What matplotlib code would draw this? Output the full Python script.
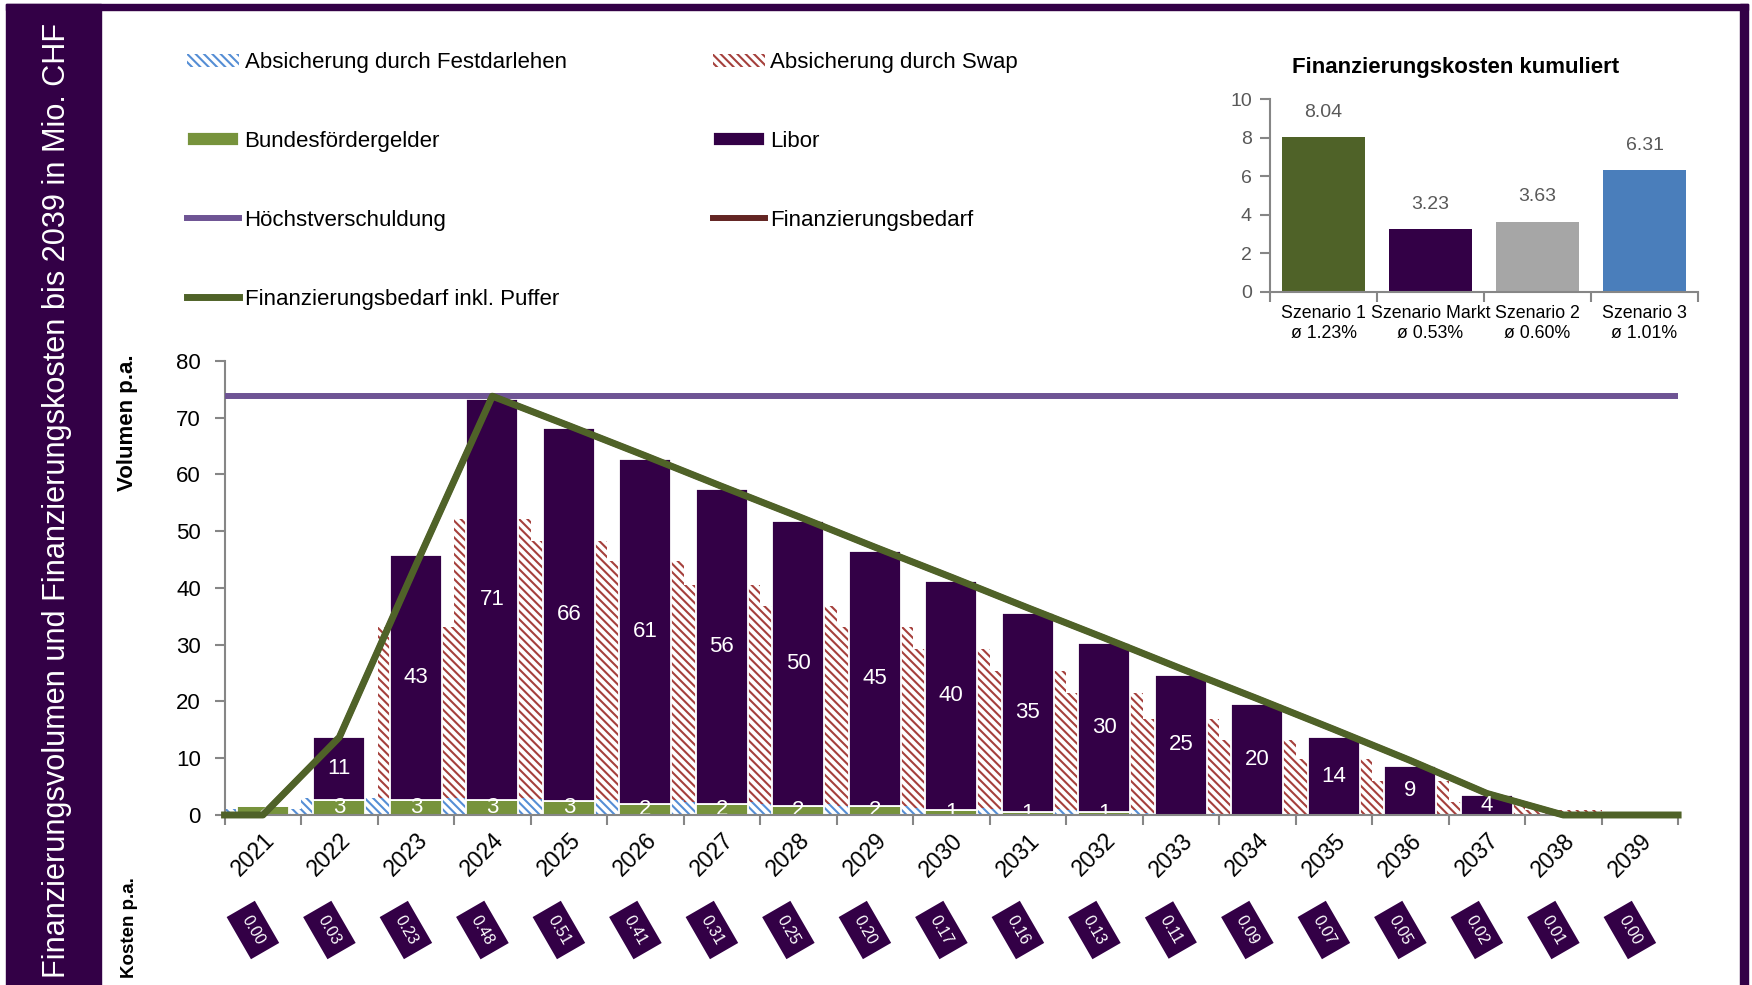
import numpy as np
import matplotlib
matplotlib.use('Agg')
import matplotlib.pyplot as plt
import matplotlib.transforms as mtransforms
from matplotlib.patches import Rectangle

plt.rcParams['font.family'] = ['Liberation Sans Narrow', 'Liberation Sans', 'DejaVu Sans']
plt.rcParams['hatch.linewidth'] = 1.5

# main chart data (Mio. CHF)
years = [str(y) for y in range(2021, 2040)]
festdarlehen = [1.1, 3.0, 3.0, 3.0, 2.9, 2.6, 2.3, 1.9, 1.5, 1.2, 1.0, 0.8, 0.3, 0, 0, 0, 0, 0, 0]
swap = [0, 0, 30.1, 49.2, 45.4, 42.2, 38.3, 35.0, 31.6, 28.1, 24.4, 20.7, 16.7, 13.3, 9.9, 6.0, 2.3, 0.8, 0]
bundesgelder = [1.5, 2.6, 2.6, 2.6, 2.55, 1.9, 1.9, 1.6, 1.5, 0.8, 0.6, 0.6, 0, 0, 0, 0, 0, 0, 0]
libor = [0, 11.1, 43.3, 70.7, 65.6, 60.8, 55.6, 50.2, 45.0, 40.4, 35.0, 29.7, 24.7, 19.6, 13.7, 8.6, 3.5, 0, 0]
hoechstverschuldung = 73.8
bedarf = [0, 13.7, 44.0, 73.8, 68.6, 63.3, 57.9, 52.6, 47.2, 41.9, 36.5, 31.2, 25.8, 20.5, 15.1, 9.6, 3.8, 0, 0]
bedarf_puffer = [0, 13.7, 44.0, 73.8, 68.6, 63.3, 57.9, 52.6, 47.2, 41.9, 36.5, 31.2, 25.8, 20.5, 15.1, 9.6, 3.8, 0, 0]
kosten = [0.00, 0.03, 0.23, 0.48, 0.51, 0.41, 0.31, 0.25, 0.20, 0.17, 0.16, 0.13, 0.11, 0.09, 0.07, 0.05, 0.02, 0.01, 0.00]

# inset data
szenarien = ['Szenario 1\nø 1.23%', 'Szenario Markt\nø 0.53%', 'Szenario 2\nø 0.60%', 'Szenario 3\nø 1.01%']
kumuliert = [8.04, 3.23, 3.63, 6.31]

purple = '#330046'
green_bar = '#77933C'
green_line = '#4F6228'
hoechst_col = '#6E5494'
bedarf_col = '#632523'
blue_hatch = '#558ED5'
red_hatch = '#A5403C'
grey = '#868686'
hatch = '\\\\\\\\'

fig = plt.figure(figsize=(17.52, 9.85), dpi=100)

# frame: left band, top and right border
fig.patches.append(Rectangle((6 / 1752, 0), 95 / 1752, 1 - 3.5 / 985, transform=fig.transFigure,
                             color=purple, zorder=0))
fig.patches.append(Rectangle((6 / 1752, 1 - 9.5 / 985), 1742 / 1752, 6 / 985, transform=fig.transFigure,
                             color=purple, zorder=0))
fig.patches.append(Rectangle((1740 / 1752, 0), 8 / 1752, 1 - 3.5 / 985, transform=fig.transFigure,
                             color=purple, zorder=0))
fig.text(57 / 1752, 1 - 500 / 985, 'Finanzierungsvolumen und Finanzierungskosten bis 2039 in Mio. CHF',
         rotation=90, color='white', fontsize=22.1, ha='center', va='center')

ax = fig.add_axes([0.1282, 0.1726, 0.8296, 0.4609])
x = np.arange(len(years))

b_fest = ax.bar(x, festdarlehen, width=1.0, color='white', edgecolor=blue_hatch, hatch=hatch,
                linewidth=0, zorder=1, label='Absicherung durch Festdarlehen')
b_swap = ax.bar(x, swap, width=1.0, bottom=festdarlehen, color='white', edgecolor=red_hatch, hatch=hatch,
                linewidth=0, zorder=1, label='Absicherung durch Swap')
b_bund = ax.bar(x, bundesgelder, width=0.68, color=green_bar, edgecolor='white', linewidth=1.3,
                zorder=2, label='Bundesfördergelder')
b_libor = ax.bar(x, libor, width=0.68, bottom=bundesgelder, color=purple, edgecolor='white', linewidth=1.3,
                 zorder=2, label='Libor')

l_hoechst = ax.axhline(hoechstverschuldung, color=hoechst_col, lw=4.3, zorder=3, label='Höchstverschuldung')
xl = np.r_[-0.5, x, len(x) - 0.5]
l_bedarf, = ax.plot(xl, np.r_[bedarf[0], bedarf, bedarf[-1]], color=bedarf_col, lw=4.3, zorder=3,
                    clip_on=False, label='Finanzierungsbedarf')
l_puffer, = ax.plot(xl, np.r_[bedarf_puffer[0], bedarf_puffer, bedarf_puffer[-1]], color=green_line, lw=5,
                    zorder=4, clip_on=False, solid_joinstyle='round', label='Finanzierungsbedarf inkl. Puffer')

for i in range(len(x)):
    if libor[i] > 0:
        ax.text(i, bundesgelder[i] + libor[i] / 2, '{:.0f}'.format(libor[i]), ha='center', va='center',
                color='white', fontsize=16, zorder=5)
    if bundesgelder[i] > 0:
        ax.text(i, bundesgelder[i] / 2, '{:.0f}'.format(bundesgelder[i]), ha='center', va='center',
                color='white', fontsize=16, zorder=2.2)

ax.set_xlim(-0.5, len(x) - 0.5)
ax.set_ylim(0, 80)
ax.set_yticks(range(0, 81, 10))
ax.set_xticks(x)
ax.set_xticklabels(years, rotation=45, ha='right', rotation_mode='anchor', fontsize=16.5)
ax.set_xticks(np.arange(-0.5, len(x), 1), minor=True)
ax.tick_params(axis='x', which='major', length=0, pad=10)
ax.tick_params(axis='x', which='minor', length=7, width=1.5, color=grey, direction='out')
ax.tick_params(axis='y', length=7, width=1.5, color=grey, direction='out', labelsize=16, pad=10)
for s in ['top', 'right']:
    ax.spines[s].set_visible(False)
for s in ['left', 'bottom']:
    ax.spines[s].set_color(grey)
    ax.spines[s].set_linewidth(1.5)

# cost boxes below the years
trans = mtransforms.blended_transform_factory(ax.transData, fig.transFigure)
for i, k in enumerate(kosten):
    ax.text(i - 0.13, 1 - 930 / 985, '{:.2f}'.format(k), transform=trans, rotation=-60,
            rotation_mode='anchor', ha='center', va='center', color='white', fontsize=11.5,
            bbox=dict(boxstyle='square,pad=0.55', fc=purple, ec='none'), clip_on=False)

fig.text(128 / 1752, 1 - 423 / 985, 'Volumen p.a.', rotation=90, fontweight='bold', fontsize=16,
         ha='center', va='center')
fig.text(130 / 1752, 1 - 928 / 985, 'Kosten p.a.', rotation=90, fontweight='bold', fontsize=13.5,
         ha='center', va='center')

handles = [b_fest, b_bund, l_hoechst, l_puffer, b_swap, b_libor, l_bedarf]
fig.legend(handles, [h.get_label() for h in handles], loc='upper left', bbox_to_anchor=(0.107, 0.947),
           ncol=2, frameon=False, fontsize=16, handlelength=2.34, handleheight=0.55, handletextpad=0.23,
           labelspacing=2.6, columnspacing=6.6, borderpad=0, borderaxespad=0)

# inset: cumulative financing costs
ax2 = fig.add_axes([0.7249, 0.704, 0.2443, 0.1951])
ax2.bar(range(4), kumuliert, width=0.78, color=[green_line, purple, '#A6A6A6', '#4A7EBB'], zorder=2)
for i, v in enumerate(kumuliert):
    ax2.annotate('{:.2f}'.format(v), (i, v), xytext=(0, 18), textcoords='offset points', ha='center',
                 va='center', color='#595959', fontsize=14)
ax2.set_xlim(-0.5, 3.5)
ax2.set_ylim(0, 10)
ax2.set_yticks(range(0, 11, 2))
ax2.set_xticks(range(4))
ax2.set_xticklabels(szenarien, fontsize=12.8)
ax2.set_xticks(np.arange(-0.5, 4, 1), minor=True)
ax2.tick_params(axis='x', which='major', length=0, pad=10)
ax2.tick_params(axis='x', which='minor', length=7, width=1.5, color=grey, direction='out')
ax2.tick_params(axis='y', length=7, width=1.5, color=grey, direction='out', labelsize=14,
                labelcolor='#595959', pad=6)
for s in ['top', 'right']:
    ax2.spines[s].set_visible(False)
for s in ['left', 'bottom']:
    ax2.spines[s].set_color(grey)
    ax2.spines[s].set_linewidth(1.5)
fig.text(1456 / 1752, 1 - 67 / 985, 'Finanzierungskosten kumuliert', fontweight='bold', fontsize=16,
         ha='center', va='center')

fig.savefig('out.png', dpi=100)
